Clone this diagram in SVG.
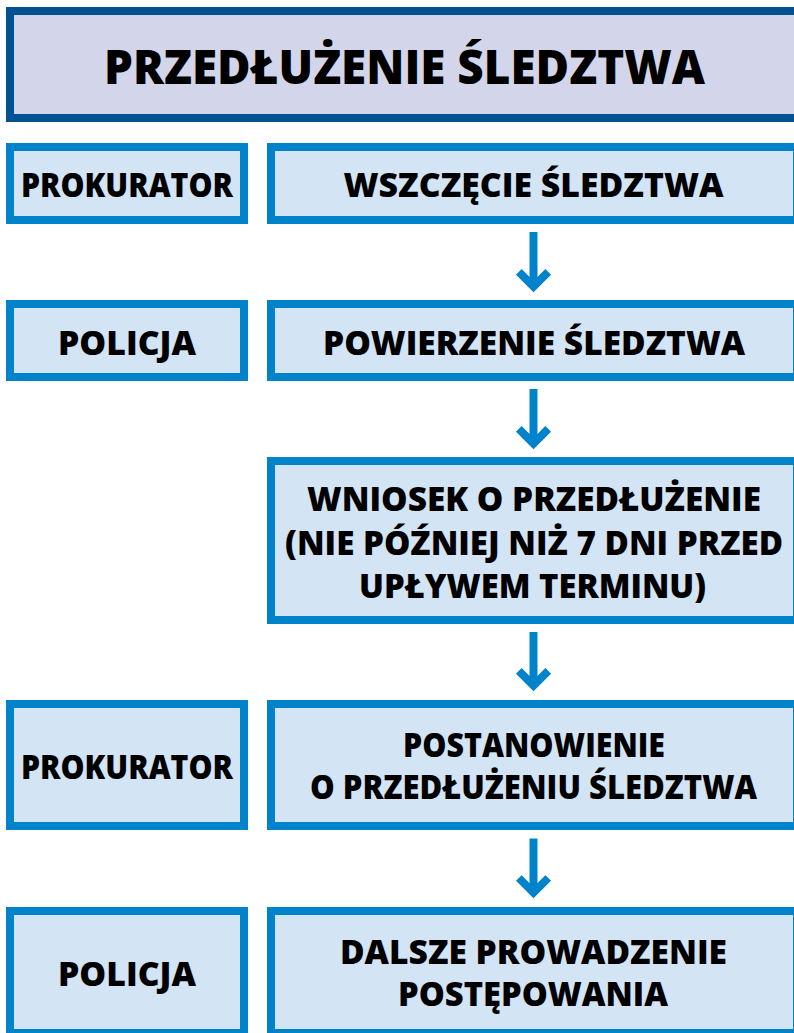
<svg xmlns="http://www.w3.org/2000/svg" width="794" height="1033" viewBox="0 0 794 1033">
<style>
.box{fill:#D3E4F5;stroke:#0083CB;stroke-width:8}
.title{fill:#D3D6EA;stroke:#005290;stroke-width:8}
text{font-family:"Open Sans","Liberation Sans",sans-serif;font-weight:800;fill:#000;text-anchor:middle}
.t{font-size:47px}
.b{font-size:34px}
.arr{fill:none;stroke:#0083CB;stroke-width:8;stroke-linecap:butt;stroke-linejoin:miter}
</style>
<rect width="794" height="1033" fill="#fff"/>
<g id="title">
<rect class="title" x="10" y="11" width="788" height="107"/>
<text class="t" x="404.5" y="83.5" textLength="601" lengthAdjust="spacingAndGlyphs">PRZEDŁUŻENIE ŚLEDZTWA</text>
</g>
<g id="actor1">
<rect class="box" x="10" y="147" width="234" height="73"/>
<text class="b" x="127" y="196.5" textLength="212" lengthAdjust="spacingAndGlyphs">PROKURATOR</text>
</g>
<g id="step1">
<rect class="box" x="271" y="147" width="526" height="73"/>
<text class="b" x="533.5" y="196.5" textLength="380" lengthAdjust="spacingAndGlyphs">WSZCZĘCIE ŚLEDZTWA</text>
</g>
<g id="actor2">
<rect class="box" x="10" y="304" width="234" height="73"/>
<text class="b" x="127" y="355" textLength="138" lengthAdjust="spacingAndGlyphs">POLICJA</text>
</g>
<g id="step2">
<rect class="box" x="271" y="304" width="526" height="73"/>
<text class="b" x="534" y="355" textLength="422" lengthAdjust="spacingAndGlyphs">POWIERZENIE ŚLEDZTWA</text>
</g>
<g id="step3">
<rect class="box" x="271" y="461" width="526" height="159"/>
<text class="b" x="534" y="511" textLength="454" lengthAdjust="spacingAndGlyphs">WNIOSEK O PRZEDŁUŻENIE</text>
<text class="b" x="534" y="555" textLength="498" lengthAdjust="spacingAndGlyphs">(NIE PÓŹNIEJ NIŻ 7 DNI PRZED</text>
<text class="b" x="532.5" y="598" textLength="347" lengthAdjust="spacingAndGlyphs">UPŁYWEM TERMINU)</text>
</g>
<g id="actor4">
<rect class="box" x="10" y="704" width="234" height="122"/>
<text class="b" x="127" y="779" textLength="212" lengthAdjust="spacingAndGlyphs">PROKURATOR</text>
</g>
<g id="step4">
<rect class="box" x="271" y="704" width="526" height="122"/>
<text class="b" x="534" y="757" textLength="262" lengthAdjust="spacingAndGlyphs">POSTANOWIENIE</text>
<text class="b" x="533.5" y="799" textLength="447" lengthAdjust="spacingAndGlyphs">O PRZEDŁUŻENIU ŚLEDZTWA</text>
</g>
<g id="actor5">
<rect class="box" x="10" y="911" width="234" height="122"/>
<text class="b" x="127" y="986" textLength="138" lengthAdjust="spacingAndGlyphs">POLICJA</text>
</g>
<g id="step5">
<rect class="box" x="271" y="911" width="526" height="122"/>
<text class="b" x="533.5" y="964" textLength="387" lengthAdjust="spacingAndGlyphs">DALSZE PROWADZENIE</text>
<text class="b" x="533" y="1006" textLength="270" lengthAdjust="spacingAndGlyphs">POSTĘPOWANIA</text>
</g>
<g id="connectors">
<line class="arr" x1="533.5" y1="232" x2="533.5" y2="284"/>
<polyline class="arr" points="518.8,271.8 533.5,286.5 548.2,271.8"/>
<line class="arr" x1="533.5" y1="389" x2="533.5" y2="441"/>
<polyline class="arr" points="518.8,428.8 533.5,443.5 548.2,428.8"/>
<line class="arr" x1="533.5" y1="632" x2="533.5" y2="684"/>
<polyline class="arr" points="518.8,670.8 533.5,685.5 548.2,670.8"/>
<line class="arr" x1="533.5" y1="838.5" x2="533.5" y2="891"/>
<polyline class="arr" points="518.8,878 533.5,892.7 548.2,878"/>
</g>
</svg>
